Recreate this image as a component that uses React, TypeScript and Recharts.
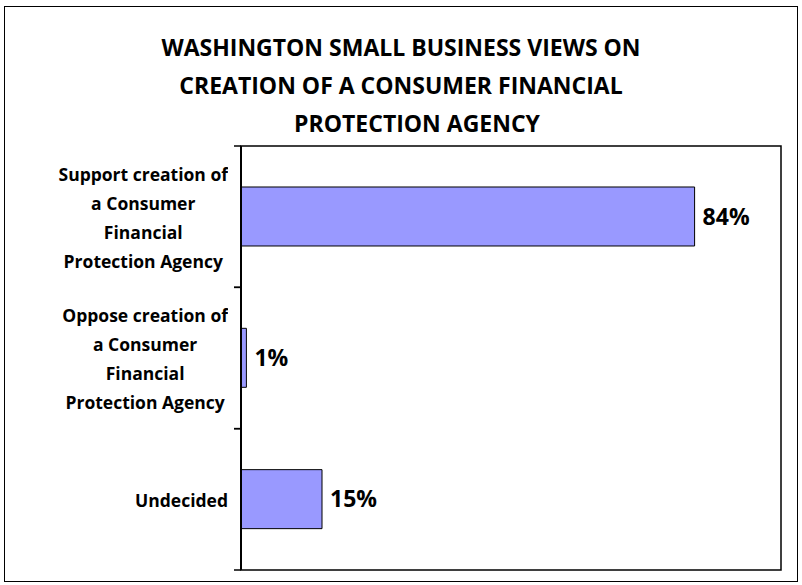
import React from 'react';
import { BarChart, Bar, XAxis, YAxis, LabelList, ReferenceArea } from 'recharts';

const categories = [
  'Support creation of|a Consumer|Financial|Protection Agency',
  'Oppose creation of|a Consumer|Financial|Protection Agency',
  'Undecided',
];
const shares = [84, 1, 15];
const titleLines = [
  'WASHINGTON SMALL BUSINESS VIEWS ON',
  'CREATION OF A CONSUMER FINANCIAL',
  'PROTECTION AGENCY',
];

const data = categories.map((name, i) => ({ name, value: shares[i] }));

const FONT = '"Open Sans", Lato, sans-serif';

const CategoryTick = (props: any) => {
  const { x, y, payload } = props;
  const half = payload.offset || 0;
  const axisX = x + 6;
  const lines = String(payload.value).split('|');
  const boxW = 230;
  const boxH = 140;
  return (
    <g>
      <line x1={axisX - 7} x2={axisX} y1={y - half} y2={y - half} stroke="#000" strokeWidth={1.5} />
      <line x1={axisX - 7} x2={axisX} y1={y + half} y2={y + half} stroke="#000" strokeWidth={1.5} />
      <foreignObject x={x - 7 - boxW} y={y - boxH / 2 + 1} width={boxW} height={boxH}>
        <div
          style={{
            width: boxW,
            height: boxH,
            display: 'flex',
            justifyContent: 'flex-end',
            alignItems: 'center',
          }}
        >
          <div
            style={{
              textAlign: 'center',
              fontFamily: FONT,
              fontWeight: 700,
              fontSize: 17.5,
              lineHeight: '29px',
              color: '#000',
              whiteSpace: 'nowrap',
            }}
          >
            {lines.map((l, i) => (
              <div key={i}>{l}</div>
            ))}
          </div>
        </div>
      </foreignObject>
    </g>
  );
};

export default function App() {
  return (
    <div style={{ position: 'absolute', left: 0, top: 0, width: 802, height: 585, background: '#fff' }}>
      <div
        style={{
          position: 'absolute',
          left: 4,
          top: 6,
          width: 792,
          height: 574,
          border: '1.5px solid #000',
        }}
      />
      {titleLines.map((t, i) => (
        <div
          key={t}
          style={{
            position: 'absolute',
            left: i === 2 ? 16 : 0,
            width: 802,
            top: 32 + i * 38,
            textAlign: 'center',
            fontFamily: FONT,
            fontWeight: 700,
            fontSize: 23,
            lineHeight: '30px',
            color: '#000',
            whiteSpace: 'nowrap',
          }}
        >
          {t}
        </div>
      ))}
      <div style={{ position: 'absolute', left: 0, top: 0 }}>
        <BarChart
          width={802}
          height={585}
          data={data}
          layout="vertical"
          margin={{ top: 146, right: 21, bottom: 15, left: 0 }}
          barCategoryGap="29%"
        >
          <XAxis
            type="number"
            domain={[0, 100]}
            tick={false}
            tickLine={false}
            height={0}
            axisLine={{ stroke: '#000', strokeWidth: 1.5 }}
          />
          <YAxis
            type="category"
            dataKey="name"
            width={241}
            tickLine={false}
            tickSize={6}
            tickMargin={0}
            interval={0}
            tick={<CategoryTick />}
            axisLine={{ stroke: '#000', strokeWidth: 2 }}
          />
          <ReferenceArea x1={0} x2={100} fill="none" stroke="#000" strokeWidth={1.5} ifOverflow="visible" />
          <Bar dataKey="value" fill="#9999FF" stroke="#000" strokeWidth={1} isAnimationActive={false}>
            <LabelList
              dataKey="value"
              position="right"
              offset={8}
              formatter={(v: any) => `${v}%`}
              style={{ fontFamily: FONT, fontWeight: 700, fontSize: 23, fill: '#000' }}
            />
          </Bar>
        </BarChart>
      </div>
    </div>
  );
}
